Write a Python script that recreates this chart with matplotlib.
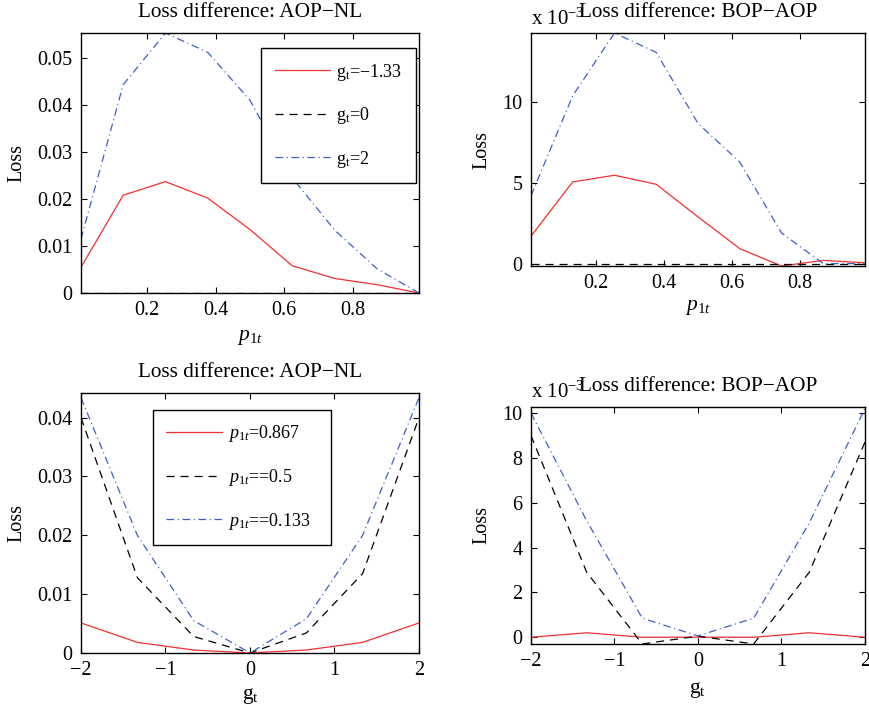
import matplotlib
matplotlib.use("Agg")
import matplotlib.pyplot as plt
from matplotlib.ticker import FuncFormatter

# p_1t grid (top row) and g_t grid (bottom row)
p_vals = [0.0083, 0.131, 0.254, 0.377, 0.5, 0.623, 0.746, 0.869, 0.9917]
g_vals = [-2, -1.333, -0.667, 0, 0.667, 1.333, 2]

# top left: AOP-NL vs p_1t
aop_nl_g_m133 = [0.0055, 0.0208, 0.0237, 0.0202, 0.0135, 0.0058, 0.0031, 0.0018, 0.0]
aop_nl_g_0 = [0, 0, 0, 0, 0, 0, 0, 0, 0]
aop_nl_g_2 = [0.0115, 0.0443, 0.0553, 0.0512, 0.0410, 0.0245, 0.0134, 0.0052, 0.0]

# top right: BOP-AOP vs p_1t
bop_aop_g_m133 = [0.0017, 0.00506, 0.00548, 0.00492, 0.0029, 0.00093, -0.00015, 0.0002, 0.00005]
bop_aop_g_0 = [0, 0, 0, 0, 0, 0, 0, 0, 0]
bop_aop_g_2 = [0.0042, 0.0104, 0.0143, 0.0131, 0.0087, 0.0063, 0.0019, 0.0, 0.0]

# bottom left: AOP-NL vs g_t
aop_nl_p_867 = [0.0051, 0.0018, 0.0005, 0.0, 0.0005, 0.0018, 0.0051]
aop_nl_p_5 = [0.0400, 0.0128, 0.0028, 0.0, 0.0034, 0.0135, 0.0400]
aop_nl_p_133 = [0.0434, 0.0200, 0.0055, 0.0, 0.0058, 0.0200, 0.0434]

# bottom right: BOP-AOP vs g_t
bop_aop_p_867 = [0.0, 0.0002, 0.0, 0.0, 0.0, 0.0002, 0.0]
bop_aop_p_5 = [0.0090, 0.0029, -0.0003, 0.00005, -0.0003, 0.0029, 0.0087]
bop_aop_p_133 = [0.0100, 0.0052, 0.00085, 0.00006, 0.00085, 0.0051, 0.0102]

top_labels = ["$\\mathrm{g_t}$=\u22121.33", "$\\mathrm{g_t}$=0", "$\\mathrm{g_t}$=2"]
bottom_labels = ["$p_{1t}$=0.867", "$p_{1t}$==0.5", "$p_{1t}$==0.133"]

plt.rcParams["font.family"] = ["Liberation Serif", "DejaVu Serif"]
plt.rcParams["mathtext.fontset"] = "custom"
plt.rcParams["mathtext.rm"] = "Liberation Serif"
plt.rcParams["mathtext.it"] = "Liberation Serif:italic"
plt.rcParams["font.size"] = 14.5
plt.rcParams["lines.scale_dashes"] = False

RED = "#f03030"
BLUE = "#3f5fc0"
STYLES = [
    dict(color=RED, lw=0.9, ls="-"),
    dict(color="black", lw=0.9, ls=(0, (5.8, 4.3))),
    dict(color=BLUE, lw=0.9, ls=(0, (5.5, 2.6, 0.8, 2.6))),
]


def fmt_plain(v, pos):
    return ("%g" % round(v, 6)).replace("-", "\u2212")


def fmt_milli(v, pos):
    return ("%g" % round(v * 1e3, 6)).replace("-", "\u2212")


def style_axes(ax):
    ax.tick_params(direction="in", top=True, right=True, length=4, width=0.8, pad=6)
    for s in ax.spines.values():
        s.set_linewidth(1.0)


fig = plt.figure(figsize=(8.7, 7.13), dpi=100)
ax_tl = fig.add_axes([0.0931, 0.589, 0.3885, 0.3647])
ax_tr = fig.add_axes([0.6103, 0.6269, 0.3839, 0.3268])
ax_bl = fig.add_axes([0.0931, 0.0842, 0.3885, 0.3647])
ax_br = fig.add_axes([0.6103, 0.0968, 0.3839, 0.3324])

for ys, st, lab in zip([aop_nl_g_m133, aop_nl_g_0, aop_nl_g_2], STYLES, top_labels):
    ax_tl.plot(p_vals, ys, label=lab, **st)
for ys, st in zip([bop_aop_g_m133, bop_aop_g_0, bop_aop_g_2], STYLES):
    ax_tr.plot(p_vals, ys, **st)
for ys, st, lab in zip([aop_nl_p_867, aop_nl_p_5, aop_nl_p_133], STYLES, bottom_labels):
    ax_bl.plot(g_vals, ys, label=lab, **st)
for ys, st in zip([bop_aop_p_867, bop_aop_p_5, bop_aop_p_133], STYLES):
    ax_br.plot(g_vals, ys, **st)

for ax in (ax_tl, ax_tr):
    ax.set_xlim(p_vals[0], p_vals[-1])
    ax.set_xticks([0.2, 0.4, 0.6, 0.8])
    ax.set_xlabel("$p_{1t}$", fontsize=15.5)
for ax in (ax_bl, ax_br):
    ax.set_xlim(-2, 2)
    ax.set_xticks([-2, -1, 0, 1, 2])
    ax.set_xlabel("$\\mathrm{g_t}$", fontsize=15.5)

ax_tl.set_ylim(0, 0.0553)
ax_tl.set_yticks([0, 0.01, 0.02, 0.03, 0.04, 0.05])
ax_tr.set_ylim(-0.00015, 0.0143)
ax_tr.set_yticks([0, 0.005, 0.01])
ax_bl.set_ylim(0, 0.0442)
ax_bl.set_yticks([0, 0.01, 0.02, 0.03, 0.04])
ax_br.set_ylim(-0.0003, 0.01027)
ax_br.set_yticks([0, 0.002, 0.004, 0.006, 0.008, 0.01])

for ax in (ax_tl, ax_bl):
    ax.set_title("Loss difference: AOP\u2212NL", pad=11.5, fontsize=15.3)
    ax.yaxis.set_major_formatter(FuncFormatter(fmt_plain))
for ax, dy in ((ax_tr, 1.034), (ax_br, 1.038)):
    ax.set_title("Loss difference: BOP\u2212AOP", pad=11.5, fontsize=15.3)
    ax.yaxis.set_major_formatter(FuncFormatter(fmt_milli))
    ax.text(0, dy, "x 10$^{-3}$", transform=ax.transAxes, ha="left",
            va="baseline", fontsize=15)

for ax in (ax_tl, ax_tr, ax_bl, ax_br):
    ax.xaxis.set_major_formatter(FuncFormatter(fmt_plain))
    ax.set_ylabel("Loss")
    style_axes(ax)

ax_tl.yaxis.set_label_coords(-0.16, 0.5)
ax_bl.yaxis.set_label_coords(-0.16, 0.5)
ax_tr.yaxis.set_label_coords(-0.117, 0.5)
ax_br.yaxis.set_label_coords(-0.117, 0.5)
ax_tl.xaxis.set_label_coords(0.5, -0.135)
ax_tr.xaxis.set_label_coords(0.5, -0.137)
ax_bl.xaxis.set_label_coords(0.5, -0.127)
ax_br.xaxis.set_label_coords(0.5, -0.152)

leg_kw = dict(loc="upper left", mode="expand", borderaxespad=0, fancybox=False,
              framealpha=1, edgecolor="black", handlelength=3.1,
              handletextpad=0.3, labelspacing=1.25, borderpad=0.75,
              fontsize=13)
leg = ax_tl.legend(bbox_to_anchor=(0.5325, 0.4115, 0.4585, 0.5305), **leg_kw)
leg.get_frame().set_linewidth(1.0)
leg2 = ax_bl.legend(bbox_to_anchor=(0.212, 0.4, 0.527, 0.5346), **leg_kw)
leg2.get_frame().set_linewidth(1.0)

fig.savefig("out.png", dpi=100)
